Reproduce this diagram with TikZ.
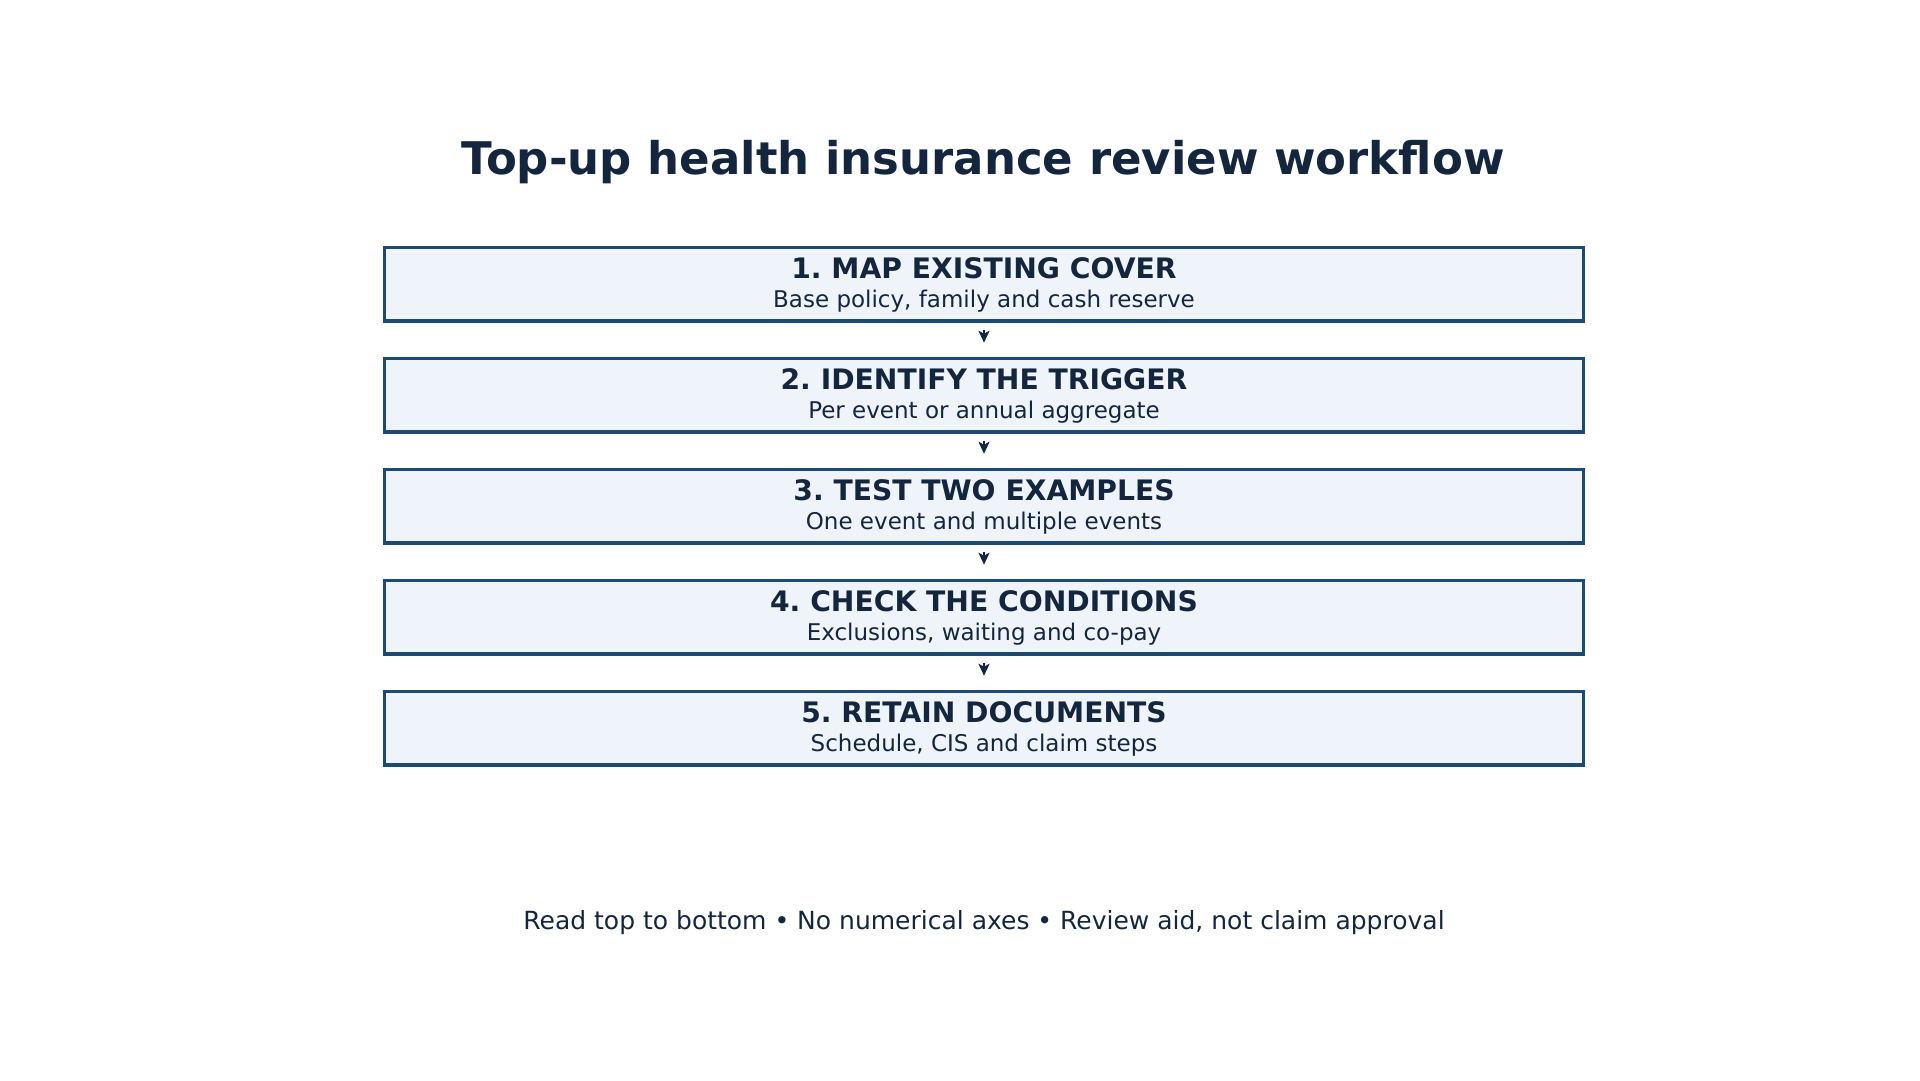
\documentclass[tikz,border=0pt]{standalone}
\usepackage{fontspec}
\setmainfont{DejaVu Sans}
\usetikzlibrary{arrows.meta}
\frenchspacing
\definecolor{inkblue}{HTML}{14263E}
\definecolor{edgeblue}{HTML}{1D4A73}
\definecolor{paleblue}{HTML}{EEF4FA}
\tikzset{
  stepbox/.style={draw=edgeblue, line width=3.5pt, fill=paleblue, minimum width=1199pt, minimum height=73.5pt, inner sep=0pt},
  stephead/.style={anchor=base, text=inkblue, font=\fontsize{28.2}{34}\selectfont\bfseries},
  steptext/.style={anchor=base, text=inkblue, font=\fontsize{23}{28}\selectfont},
  flow/.style={-{Stealth[length=12pt,width=11pt,inset=3pt]}, draw=inkblue, line width=2.5pt, shorten <=7pt, shorten >=14pt}
}
\begin{document}
\begin{tikzpicture}[x=1pt,y=-1pt]
	\useasboundingbox (0,0) rectangle (1920,1080);
	\node[anchor=base, text=inkblue, font=\fontsize{45}{54}\selectfont\bfseries] (title) at (983,174) {Top-up health insurance review workflow};
	\node[stepbox] (s1) at (984,284.25) {};
	\node[stepbox] (s2) at (984,395.25) {};
	\node[stepbox] (s3) at (984,506.25) {};
	\node[stepbox] (s4) at (984,617.25) {};
	\node[stepbox] (s5) at (984,728.25) {};
	\node[stephead] (s1h) at ([yshift=-32.5pt]s1.north) {1. MAP EXISTING COVER};
	\node[steptext] (s1t) at ([yshift=-62pt]s1.north) {Base policy, family and cash reserve};
	\node[stephead] (s2h) at ([yshift=-32.5pt]s2.north) {2. IDENTIFY THE TRIGGER};
	\node[steptext] (s2t) at ([yshift=-62pt]s2.north) {Per event or annual aggregate};
	\node[stephead] (s3h) at ([yshift=-32.5pt]s3.north) {3. TEST TWO EXAMPLES};
	\node[steptext] (s3t) at ([yshift=-62pt]s3.north) {One event and multiple events};
	\node[stephead] (s4h) at ([yshift=-32.5pt]s4.north) {4. CHECK THE CONDITIONS};
	\node[steptext] (s4t) at ([yshift=-62pt]s4.north) {Exclusions, waiting and co-pay};
	\node[stephead] (s5h) at ([yshift=-32.5pt]s5.north) {5. RETAIN DOCUMENTS};
	\node[steptext] (s5t) at ([yshift=-62pt]s5.north) {Schedule, CIS and claim steps};
	\draw[flow] (s1.south) -- (s2.north);
	\draw[flow] (s2.south) -- (s3.north);
	\draw[flow] (s3.south) -- (s4.north);
	\draw[flow] (s4.south) -- (s5.north);
	\node[anchor=base, text=inkblue, font=\fontsize{25}{30}\selectfont] (foot) at (984,929) {Read top to bottom • No numerical axes • Review aid, not claim approval};
\end{tikzpicture}
\end{document}
